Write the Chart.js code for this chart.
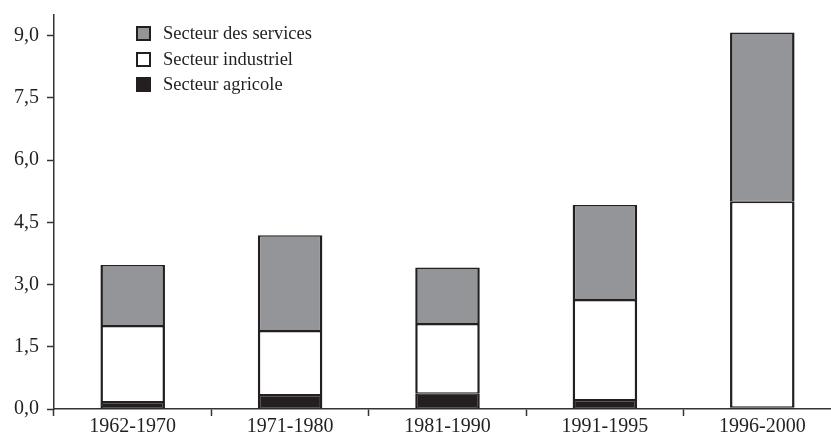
<!DOCTYPE html>
<html>
<head>
<meta charset="utf-8">
<script src="https://cdn.jsdelivr.net/npm/chart.js@4"></script>
<style>
    body { margin: 0; background: #fff; overflow: hidden; }
    #wrap { position: relative; width: 831px; height: 433px; overflow: hidden; }
    #plot { position: absolute; left: 0; top: 0; width: 841px; height: 438px; }
    #legend { position: absolute; left: 136px; top: 21px; font: 18.5px "Liberation Serif", serif; color: #231f20; }
    #legend div { height: 25.5px; display: flex; align-items: center; }
    #legend span.box { display: inline-block; width: 11px; height: 11px; border: 2px solid #231f20; margin-right: 12px; }
</style>
</head>
<body>
<div id="wrap">
    <div id="plot"><canvas id="chart"></canvas></div>
    <div id="legend"></div>
</div>
<script>
const periods = ['1962-1970', '1971-1980', '1981-1990', '1991-1995', '1996-2000'];
const agricole = [0.17, 0.34, 0.38, 0.22, 0.04];
const industriel = [1.83, 1.54, 1.67, 2.41, 4.96];
const services = [1.47, 2.31, 1.36, 2.29, 4.08];
const yTicks = [0, 1.5, 3.0, 4.5, 6.0, 7.5, 9.0];

const ink = '#231f20';
const font = '"Liberation Serif", "Times New Roman", serif';

function segment(label, data, color) {
    return {
        label: label,
        data: data,
        backgroundColor: color,
        borderColor: ink,
        borderWidth: { top: 1.5, bottom: 1, left: 2.5, right: 2.5 },
        borderSkipped: false,
        barPercentage: 0.41,
        categoryPercentage: 1
    };
}

const datasets = [
    segment('Secteur agricole', agricole, ink),
    segment('Secteur industriel', industriel, '#ffffff'),
    segment('Secteur des services', services, '#939598')
];

// legend, top entry first
const legend = document.getElementById('legend');
datasets.slice().reverse().forEach(ds => {
    const row = document.createElement('div');
    const box = document.createElement('span');
    box.className = 'box';
    box.style.background = ds.backgroundColor;
    row.appendChild(box);
    row.appendChild(document.createTextNode(ds.label));
    legend.appendChild(row);
});

new Chart(document.getElementById('chart').getContext('2d'), {
    type: 'bar',
    data: { labels: periods, datasets: datasets },
    options: {
        responsive: true,
        maintainAspectRatio: false,
        animation: false,
        layout: { padding: { top: 15, right: 0, bottom: 0, left: 0 } },
        plugins: {
            legend: { display: false },
            tooltip: { enabled: false }
        },
        scales: {
            x: {
                stacked: true,
                grid: { display: true, drawOnChartArea: false, drawTicks: true, tickLength: 7, tickColor: '#333', tickWidth: 1.5 },
                border: { display: true, color: '#333', width: 1.5 },
                ticks: { color: ink, padding: 1, font: { family: font, size: 20, lineHeight: 1 } }
            },
            y: {
                stacked: true,
                min: 0,
                max: 9.5,
                afterBuildTicks: scale => {
                    scale.ticks = yTicks.map(v => ({ value: v }));
                },
                afterFit: scale => {
                    scale.width = 54;
                    scale.paddingTop = 0;
                    scale.paddingBottom = 0;
                },
                grid: { display: true, drawOnChartArea: false, drawTicks: true, tickLength: 7, tickColor: '#333', tickWidth: 1.5 },
                border: { display: true, color: '#333', width: 1.5 },
                ticks: {
                    color: ink,
                    padding: 8,
                    font: { family: font, size: 20 },
                    callback: value => value.toFixed(1).replace('.', ',')
                }
            }
        }
    }
});
</script>
</body>
</html>
